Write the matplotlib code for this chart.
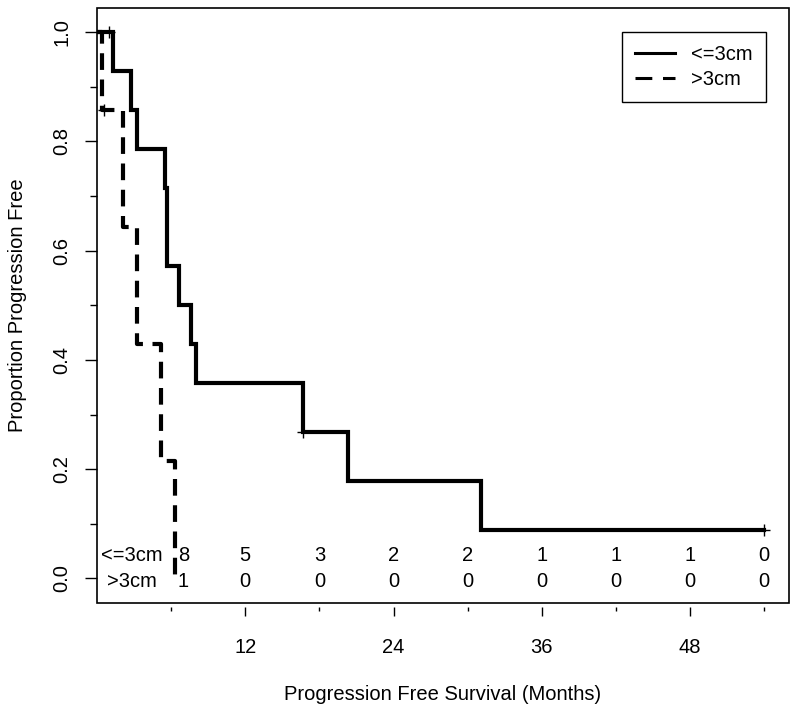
import matplotlib
matplotlib.use("Agg")
import matplotlib.pyplot as plt
from matplotlib.patches import Rectangle
import numpy as np

plt.rcParams['font.family'] = ['Liberation Sans', 'DejaVu Sans']

# Kaplan-Meier step data (months, proportion free)
small_times = [0, 1.26, 2.77, 3.2, 5.47, 5.7, 6.63, 7.63, 8.03, 16.7, 20.3, 31.1, 54]
small_surv = [1.0, 0.929, 0.857, 0.786, 0.714, 0.571, 0.5, 0.429, 0.357, 0.268, 0.179, 0.089, 0.089]
small_censor_t = [0.95, 16.7, 54]

large_times = [0, 0.4, 2.1, 3.2, 5.2, 6.3]
large_surv = [1.0, 0.857, 0.643, 0.429, 0.214, 0.0]
large_censor_t = [0.6]

# Numbers at risk
risk_times = [7, 12, 18, 24, 30, 36, 42, 48, 54]
risk_small = [8, 5, 3, 2, 2, 1, 1, 1, 0]
risk_large = [1, 0, 0, 0, 0, 0, 0, 0, 0]
group_labels = ['<=3cm', '>3cm']


def step_val(times, surv, t):
    idx = np.searchsorted(times, t, side='right') - 1
    return surv[idx]


W, H = 800, 707
fig = plt.figure(figsize=(W / 100, H / 100), dpi=100)
ax = fig.add_axes([97 / W, (H - 603) / H, 692 / W, 595 / H])

lw = 3.0
ax.step(small_times, small_surv, where='post', color='black', lw=lw,
        solid_joinstyle='miter', label=group_labels[0])
ax.step(large_times, large_surv, where='post', color='black', lw=lw,
        linestyle=(0, (4, 2.3)), label=group_labels[1])

ax.plot(small_censor_t, [step_val(small_times, small_surv, t) for t in small_censor_t],
        linestyle='none', marker='+', color='black', markersize=9, mew=1)
ax.plot(large_censor_t, [step_val(large_times, large_surv, t) for t in large_censor_t],
        linestyle='none', marker='+', color='black', markersize=9, mew=1)

# numbers at risk
fs = 14.5
for t, a, b in zip(risk_times, risk_small, risk_large):
    ax.text(t, 0.042, str(a), ha='center', va='center', fontsize=fs)
    ax.text(t, -0.006, str(b), ha='center', va='center', fontsize=fs)
ax.text(2.8, 0.042, group_labels[0], ha='center', va='center', fontsize=fs)
ax.text(2.8, -0.006, group_labels[1], ha='center', va='center', fontsize=fs)

ax.set_xlim(0, 56)
ax.set_ylim(-0.045, 1.044)
ax.set_xticks([12, 24, 36, 48])
ax.set_xticks([6, 18, 30, 42, 54], minor=True)
ax.set_yticks([0.0, 0.2, 0.4, 0.6, 0.8, 1.0])
ax.set_yticklabels(['0.0', '0.2', '0.4', '0.6', '0.8', '1.0'])
ax.set_yticks([0.1, 0.3, 0.5, 0.7, 0.9], minor=True)

for s in ['top', 'right']:
    ax.spines[s].set_visible(False)
ax.spines['bottom'].set_position(('outward', 3))
for s in ['bottom', 'left']:
    ax.spines[s].set_linewidth(0)

ax.tick_params(axis='x', which='major', direction='out', length=6.5, width=1,
               labelsize=fs, pad=16)
ax.tick_params(axis='x', which='minor', direction='out', length=3, width=1)
ax.tick_params(axis='y', which='major', direction='out', length=8.6, width=1,
               labelsize=fs, pad=10, labelrotation=90)
ax.tick_params(axis='y', which='minor', direction='out', length=5, width=1)
for lab in ax.get_yticklabels():
    lab.set_va('center')

ax.add_patch(Rectangle((0, 0), 1, 1, transform=ax.transAxes, fill=False,
                       edgecolor='black', lw=1.2, clip_on=False, zorder=5))

ax.set_xlabel('Progression Free Survival (Months)', fontsize=fs, labelpad=20)
ax.set_ylabel('Proportion Progression Free', fontsize=fs, labelpad=18)

leg = ax.legend(loc='upper right', bbox_to_anchor=((766 - 97) / 692, (603 - 32) / 595),
                borderaxespad=0, fancybox=False, framealpha=1, edgecolor='black',
                fontsize=fs, handlelength=2.0, handletextpad=0.8, borderpad=0.65,
                labelspacing=0.3)
leg.get_frame().set_linewidth(1.0)
for line in leg.get_lines():
    line.set_linewidth(2.2)
leg.get_lines()[1].set_dashes((5.5, 3.5))

fig.savefig('out.png', dpi=100)
